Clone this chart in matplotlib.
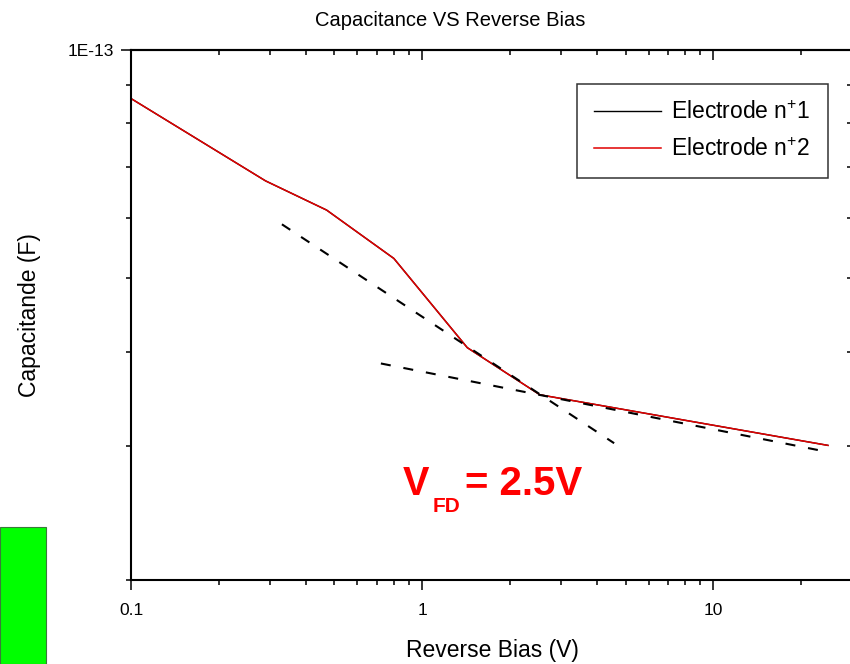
import matplotlib
matplotlib.use("Agg")
import matplotlib.pyplot as plt
from matplotlib.patches import Rectangle
from matplotlib.ticker import LogLocator, FixedLocator, NullFormatter, FuncFormatter

plt.rcParams['font.family'] = ['Liberation Sans', 'DejaVu Sans']
plt.rcParams['mathtext.fontset'] = 'custom'
plt.rcParams['mathtext.rm'] = 'Liberation Sans'
plt.rcParams['mathtext.bf'] = 'Liberation Sans:bold'

# C-V sweep (reverse bias in volts, capacitance in farads)
bias_n1 = [0.1, 0.29, 0.47, 0.8, 1.43, 2.54, 24.8]
cap_n1 = [8.63e-14, 6.72e-14, 6.15e-14, 5.31e-14, 4.05e-14, 3.51e-14, 3.01e-14]
bias_n2 = [0.1, 0.29, 0.47, 0.8, 1.43, 2.54, 24.8]
cap_n2 = [8.63e-14, 6.72e-14, 6.15e-14, 5.31e-14, 4.05e-14, 3.51e-14, 3.01e-14]

# straight-line fits below and above full depletion
fit_low_v = [0.33, 4.57]
fit_low_c = [5.89e-14, 3.03e-14]
fit_high_v = [0.722, 24.8]
fit_high_c = [3.86e-14, 2.95e-14]

x_limits = [0.1, 30]
y_limits = [2e-14, 1e-13]
x_ticks = [0.1, 1, 10]
x_tick_labels = ["0.1", "1", "10"]

W, H = 850, 664
fig = plt.figure(figsize=(W / 100, H / 100), dpi=100)
ax = fig.add_axes([131 / W, (H - 580) / H, 721 / W, 530 / H])

ax.plot(bias_n1, cap_n1, color='black', lw=1.0, label=r'Electrode n$^{+}$1')
ax.plot(bias_n2, cap_n2, color='#e00000', lw=1.1, label=r'Electrode n$^{+}$2')
ax.plot(fit_low_v, fit_low_c, color='black', lw=1.5, dashes=(4.8, 6.2))
ax.plot(fit_high_v, fit_high_c, color='black', lw=1.5, dashes=(4.8, 6.2))

ax.set_xscale('log')
ax.set_yscale('log')
ax.set_xlim(*x_limits)
ax.set_ylim(*y_limits)

ax.xaxis.set_major_locator(FixedLocator(x_ticks))
ax.xaxis.set_major_formatter(FuncFormatter(lambda v, p: x_tick_labels[x_ticks.index(v)] if v in x_ticks else ""))
ax.xaxis.set_minor_locator(LogLocator(base=10, subs=range(2, 10)))
ax.xaxis.set_minor_formatter(NullFormatter())
ax.yaxis.set_major_locator(FixedLocator([1e-13]))
ax.yaxis.set_major_formatter(FuncFormatter(lambda v, p: "1E-13"))
ax.yaxis.set_minor_locator(LogLocator(base=10, subs=range(2, 10)))
ax.yaxis.set_minor_formatter(NullFormatter())

for s in ax.spines.values():
    s.set_linewidth(1.5)
ax.tick_params(which='both', direction='out', width=1.1, labelsize=12.5, top=False, right=False)
ax.tick_params(which='major', length=7.5, pad=9)
ax.tick_params(which='minor', length=3.8)
ax.tick_params(axis='y', which='major', pad=5)

# inward ticks on the top and right frame
top = ax.secondary_xaxis('top')
top.xaxis.set_major_locator(FixedLocator(x_ticks))
top.xaxis.set_minor_locator(LogLocator(base=10, subs=range(2, 10)))
top.tick_params(which='both', direction='in', width=1.1, labeltop=False)
top.tick_params(which='major', length=7.5)
top.tick_params(which='minor', length=3.8)
top.spines['top'].set_linewidth(1.5)
right = ax.secondary_yaxis('right')
right.yaxis.set_major_locator(FixedLocator([1e-13]))
right.yaxis.set_minor_locator(LogLocator(base=10, subs=range(2, 10)))
right.tick_params(which='both', direction='in', width=1.1, labelright=False)
right.tick_params(which='major', length=7.5)
right.tick_params(which='minor', length=3.8)

ax.set_xlabel('Reverse Bias (V)', fontsize=16.5)
ax.xaxis.set_label_coords((492 - 131) / 721, -(650 - 580) / 530)
ax.xaxis.label.set_va('center')
ax.set_ylabel('Capacitande (F)', fontsize=16.5)
ax.yaxis.set_label_coords(-(131 - 30) / 721, (580 - 315) / 530)
ax.yaxis.label.set_va('center')

fig.text(450 / W, 1 - 20 / H, 'Capacitance VS Reverse Bias', ha='center', va='center', fontsize=14.5)

leg = ax.legend(loc='upper right', bbox_to_anchor=((828 - 131) / 721, (580 - 84) / 530),
                frameon=True, fancybox=False, fontsize=16.5, handlelength=2.9,
                handletextpad=0.45, borderpad=0.75, labelspacing=0.6, borderaxespad=0)
leg.get_frame().set_edgecolor('black')
leg.get_frame().set_linewidth(1.1)

# full-depletion voltage annotation
red = '#ff0000'
fig.text(403 / W, 1 - 495 / H, 'V', color=red, fontsize=28.5, fontweight='bold', va='baseline')
fig.text(433 / W, 1 - 512 / H, 'FD', color=red, fontsize=15, fontweight='bold', va='baseline')
fig.text(465 / W, 1 - 495 / H, '= 2.5V', color=red, fontsize=29, fontweight='bold', va='baseline')

fig.patches.append(Rectangle((0, 0), 46 / W, (H - 527) / H, transform=fig.transFigure,
                             facecolor='#00ff00', edgecolor='#3a7a3a', lw=0.8))

fig.savefig('out.png', dpi=100)
